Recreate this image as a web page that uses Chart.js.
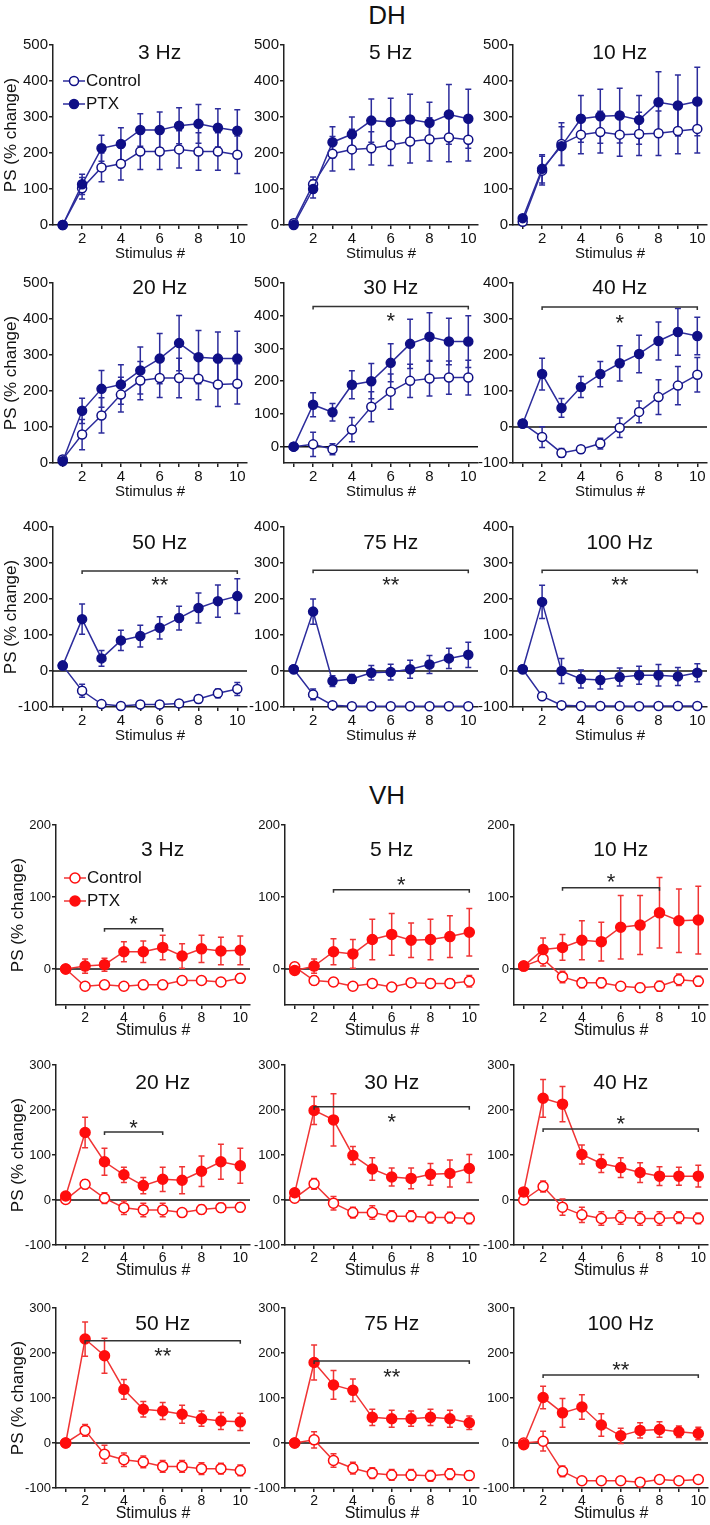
<!DOCTYPE html>
<html>
<head>
<meta charset="utf-8">
<script src="https://cdn.jsdelivr.net/npm/chart.js@4.4.0/dist/chart.umd.min.js"></script>
<style>
  body { margin: 0; background: #fff; width: 710px; height: 1525px; position: relative; overflow: hidden;
         font-family: "Liberation Sans", Arial, sans-serif; color: #111; }
  canvas { position: absolute; }
  .section { position: absolute; font-size: 26px; transform: translate(-50%, -50%); }
</style>
</head>
<body>
<div class="section" style="left:387px;top:15px">DH</div>
<div class="section" style="left:387px;top:795px">VH</div>
<script>
const stimuli = [1, 2, 3, 4, 5, 6, 7, 8, 9, 10];
const frequencies = ['3 Hz', '5 Hz', '10 Hz', '20 Hz', '30 Hz', '40 Hz', '50 Hz', '75 Hz', '100 Hz'];

// DH, one row per frequency (mean, SEM)
const dhControl = [
  [0, 102, 160, 170, 204, 204, 210, 204, 204, 195],
  [5, 113, 198, 210, 213, 222, 232, 238, 243, 237],
  [9, 151, 225, 251, 258, 251, 253, 255, 261, 267],
  [10, 79, 132, 190, 229, 236, 236, 234, 218, 220],
  [0, 7, -8, 52, 122, 168, 201, 208, 211, 211],
  [10, -28, -72, -62, -46, -2, 42, 83, 115, 145],
  [15, -55, -92, -97, -93, -93, -90, -78, -62, -50],
  [5, -65, -95, -98, -98, -98, -98, -98, -98, -98],
  [5, -70, -95, -97, -97, -97, -98, -97, -97, -97]
];
const dhControlErr = [
  [0, 30, 40, 45, 50, 50, 52, 52, 52, 52],
  [3, 20, 48, 56, 46, 57, 60, 60, 67, 59],
  [3, 40, 59, 53, 58, 60, 60, 62, 63, 67],
  [3, 42, 49, 48, 53, 54, 55, 58, 61, 56],
  [0, 37, 17, 37, 46, 54, 51, 53, 51, 53],
  [3, 29, 12, 10, 15, 27, 30, 48, 53, 48],
  [3, 18, 8, 5, 8, 8, 8, 10, 12, 18],
  [3, 15, 5, 3, 3, 3, 3, 3, 3, 3],
  [3, 8, 4, 3, 3, 3, 3, 3, 3, 3]
];
const dhPtx = [
  [0, 113, 213, 225, 264, 264, 276, 281, 270, 262],
  [0, 100, 230, 252, 290, 286, 293, 284, 307, 295],
  [19, 156, 219, 295, 302, 304, 292, 341, 332, 343],
  [5, 145, 206, 218, 257, 290, 333, 294, 290, 290],
  [0, 128, 105, 189, 200, 256, 314, 336, 321, 321],
  [9, 147, 53, 111, 147, 177, 203, 239, 264, 253],
  [15, 144, 35, 85, 97, 120, 147, 175, 194, 208],
  [5, 165, -28, -22, -5, -3, 5, 18, 35, 45],
  [5, 192, 0, -22, -25, -17, -12, -12, -15, -5]
];
const dhPtxErr = [
  [0, 28, 36, 45, 45, 50, 50, 54, 53, 58],
  [3, 25, 43, 48, 60, 66, 70, 57, 83, 82],
  [5, 39, 54, 65, 75, 76, 68, 85, 85, 95],
  [3, 35, 51, 55, 65, 70, 77, 74, 74, 76],
  [3, 37, 27, 43, 54, 58, 75, 73, 71, 79],
  [5, 44, 26, 29, 35, 49, 52, 53, 65, 52],
  [5, 42, 22, 28, 30, 31, 33, 42, 45, 48],
  [5, 35, 15, 12, 20, 22, 25, 25, 28, 35],
  [5, 46, 35, 25, 25, 25, 25, 30, 25, 25]
];

// VH
const vhControl = [
  [0, -24, -22, -24, -22, -22, -16, -16, -18, -13],
  [3, -16, -18, -24, -20, -25, -19, -20, -20, -17],
  [4, 14, -11, -19, -19, -24, -26, -24, -15, -17],
  [1, 35, 4, -17, -22, -22, -28, -21, -17, -16],
  [4, 36, -7, -28, -28, -36, -36, -39, -39, -41],
  [0, 30, -16, -33, -41, -39, -41, -41, -39, -41],
  [0, 28, -25, -37, -42, -52, -52, -57, -57, -61],
  [0, 7, -39, -56, -67, -71, -71, -73, -69, -72],
  [0, 4, -63, -84, -84, -84, -87, -81, -84, -81]
];
const vhControlErr = [
  [2, 4, 3, 3, 4, 3, 4, 4, 5, 6],
  [3, 6, 5, 5, 5, 3, 5, 6, 6, 8],
  [2, 10, 8, 7, 7, 5, 6, 7, 8, 7],
  [3, 10, 12, 15, 15, 15, 8, 10, 10, 10],
  [3, 12, 15, 12, 15, 12, 12, 12, 12, 12],
  [3, 12, 18, 17, 15, 15, 15, 15, 13, 12],
  [3, 13, 20, 15, 13, 13, 13, 13, 12, 12],
  [3, 18, 15, 13, 12, 12, 12, 12, 12, 10],
  [3, 22, 12, 5, 4, 5, 5, 4, 4, 4]
];
const vhPtx = [
  [0, 4, 6, 24, 24, 30, 18, 28, 25, 26],
  [-2, 4, 24, 21, 41, 48, 40, 41, 45, 51],
  [4, 27, 30, 40, 38, 58, 61, 78, 67, 68],
  [9, 150, 85, 56, 32, 46, 44, 64, 85, 76],
  [16, 199, 178, 99, 69, 51, 48, 57, 59, 70],
  [18, 226, 213, 101, 81, 72, 61, 53, 53, 53],
  [0, 231, 194, 119, 75, 71, 64, 54, 49, 47],
  [0, 179, 129, 117, 57, 54, 54, 57, 54, 45],
  [-4, 101, 67, 80, 40, 16, 28, 30, 25, 21]
];
const vhPtxErr = [
  [2, 10, 9, 14, 15, 17, 17, 19, 19, 20],
  [3, 10, 18, 20, 28, 29, 24, 28, 29, 33],
  [3, 16, 18, 27, 27, 44, 41, 49, 44, 47],
  [5, 34, 30, 17, 18, 27, 30, 34, 39, 39],
  [8, 31, 58, 20, 25, 20, 23, 24, 30, 31],
  [8, 42, 39, 21, 20, 22, 22, 21, 20, 24],
  [3, 38, 39, 22, 17, 19, 20, 17, 19, 19],
  [3, 39, 32, 25, 18, 19, 17, 18, 19, 15],
  [5, 25, 32, 27, 25, 17, 17, 17, 13, 14]
];

// axis ranges
const dhYMin = [0, 0, 0, 0, -50, -100, -100, -100, -100];
const dhYMax = [500, 500, 500, 500, 500, 400, 400, 400, 400];
const vhYMin = [-50, -50, -50, -100, -100, -100, -100, -100, -100];
const vhYMax = [200, 200, 200, 300, 300, 300, 300, 300, 300];

// significance bars
const dhSigFrom = [null, null, null, null, 2, 2, 2, 2, 2];
const dhSigTo = [null, null, null, null, 10, 10, 10, 10, 10];
const dhSigAt = [null, null, null, null, 428, 333, 278, 280, 280];
const dhSigMark = ['', '', '', '', '*', '*', '**', '**', '**'];
const dhSigMarkAt = [null, null, null, null, 400, 303, 253, 252, 252];

const vhSigFrom = [3, 3, 3, 3, 2, 2, 2, 2, 2];
const vhSigTo = [6, 10, 8, 6, 10, 10, 10, 10, 10];
const vhSigAt = [56, 110, 113, 151, 207, 158, 227, 182, 151];
const vhSigMark = ['*', '*', '*', '*', '*', '*', '**', '**', '**'];
const vhSigMarkAt = [69, 124, 128, 171, 184, 180, 204, 158, 173];

const FONT = '"Liberation Sans", Arial, sans-serif';
const AXIS = '#222';
const Y_W = 52, PLOT_W = 194, PLOT_H = 180, PAD_T = 14;

const regions = [
  {
    color: '#0f0f86', line: '#2c2c9c', control: dhControl, controlErr: dhControlErr, ptx: dhPtx, ptxErr: dhPtxErr,
    yMin: dhYMin, yMax: dhYMax,
    sig: { from: dhSigFrom, to: dhSigTo, at: dhSigAt, mark: dhSigMark, markAt: dhSigMarkAt },
    axisX: [53, 284, 513], top: [45, 283, 527], xAxisH: 38, titleDy: [8, 5, 16],
    yTick: 15, xTick: 15, xTitle: 15, yTitlePad: 0, radius: 4.5, legendDx: 21, legendDy: [36, 59]
  },
  {
    color: '#ff0d0d', line: '#f03434', control: vhControl, controlErr: vhControlErr, ptx: vhPtx, ptxErr: vhPtxErr,
    yMin: vhYMin, yMax: vhYMax,
    sig: { from: vhSigFrom, to: vhSigTo, at: vhSigAt, mark: vhSigMark, markAt: vhSigMarkAt },
    axisX: [56, 285, 514], top: [825, 1065, 1308], xAxisH: 35, titleDy: [25, 18, 16],
    yTick: 13, xTick: 14, xTitle: 16, yTitlePad: 4, radius: 5, legendDx: 19, legendDy: [53, 76]
  }
];

function panelExtras(R, i) {
  return {
    id: 'panelExtras',
    beforeDatasetsDraw(chart) {
      const { ctx, chartArea, scales: { x, y } } = chart;
      ctx.save();
      if (R.yMin[i] < 0) {
        ctx.strokeStyle = '#111';
        ctx.lineWidth = 1.5;
        ctx.beginPath();
        ctx.moveTo(chartArea.left, y.getPixelForValue(0));
        ctx.lineTo(chartArea.right, y.getPixelForValue(0));
        ctx.stroke();
      }
      // error bars (SEM)
      ctx.strokeStyle = R.line;
      ctx.lineWidth = 1.5;
      [[R.control[i], R.controlErr[i]], [R.ptx[i], R.ptxErr[i]]].forEach(([m, e]) => {
        stimuli.forEach((s, k) => {
          const px = x.getPixelForValue(s);
          const y1 = y.getPixelForValue(m[k] + e[k]);
          const y2 = y.getPixelForValue(m[k] - e[k]);
          ctx.beginPath();
          ctx.moveTo(px, y1); ctx.lineTo(px, y2);
          ctx.moveTo(px - 3, y1); ctx.lineTo(px + 3, y1);
          ctx.moveTo(px - 3, y2); ctx.lineTo(px + 3, y2);
          ctx.stroke();
        });
      });
      ctx.restore();
    },
    afterDraw(chart) {
      const { ctx, chartArea, scales: { x, y } } = chart;
      const row = Math.floor(i / 3);
      ctx.save();
      ctx.fillStyle = '#111';
      ctx.font = '21px ' + FONT;
      ctx.textAlign = 'center';
      ctx.textBaseline = 'middle';
      ctx.fillText(frequencies[i], x.getPixelForValue(6), chartArea.top + R.titleDy[row]);
      if (R.sig.from[i] !== null) {
        const x1 = x.getPixelForValue(R.sig.from[i]);
        const x2 = x.getPixelForValue(R.sig.to[i]);
        const py = y.getPixelForValue(R.sig.at[i]);
        ctx.strokeStyle = '#333';
        ctx.lineWidth = 1.5;
        ctx.beginPath();
        ctx.moveTo(x1, py + 3); ctx.lineTo(x1, py); ctx.lineTo(x2, py); ctx.lineTo(x2, py + 3);
        ctx.stroke();
        ctx.font = '22px ' + FONT;
        ctx.textBaseline = 'alphabetic';
        ctx.fillStyle = '#222';
        ctx.fillText(R.sig.mark[i], (x1 + x2) / 2, y.getPixelForValue(R.sig.markAt[i]) + 12);
      }
      if (i === 0) {
        const mx = chartArea.left + R.legendDx;
        ['Control', 'PTX'].forEach((name, k) => {
          const my = chartArea.top + R.legendDy[k];
          ctx.strokeStyle = R.line;
          ctx.lineWidth = 1.5;
          ctx.beginPath();
          ctx.moveTo(mx - 11, my); ctx.lineTo(mx + 11, my);
          ctx.stroke();
          ctx.strokeStyle = R.color;
          ctx.beginPath();
          ctx.arc(mx, my, R.radius, 0, Math.PI * 2);
          ctx.fillStyle = k === 0 ? '#fff' : R.color;
          ctx.fill();
          ctx.stroke();
          ctx.fillStyle = '#111';
          ctx.font = '17px ' + FONT;
          ctx.textAlign = 'left';
          ctx.textBaseline = 'middle';
          ctx.fillText(name, mx + 12, my);
        });
      }
      ctx.restore();
    }
  };
}

function makePanel(R, i) {
  const col = i % 3, row = Math.floor(i / 3);
  const canvas = document.createElement('canvas');
  const W = Y_W + PLOT_W + 8;
  const H = PAD_T + PLOT_H + R.xAxisH;
  canvas.width = W;
  canvas.height = H;
  canvas.style.width = W + 'px';
  canvas.style.height = H + 'px';
  canvas.style.left = (R.axisX[col] - Y_W) + 'px';
  canvas.style.top = (R.top[row] - PAD_T) + 'px';
  document.body.appendChild(canvas);

  const pts = arr => stimuli.map((s, k) => ({ x: s, y: arr[k] }));
  const common = {
    borderColor: R.line, pointBorderColor: R.color, borderWidth: 1.5,
    pointRadius: R.radius, pointBorderWidth: 1.5, tension: 0, fill: false, clip: false
  };

  new Chart(canvas, {
    type: 'line',
    data: {
      datasets: [
        Object.assign({ label: 'PTX', data: pts(R.ptx[i]), backgroundColor: R.color, pointBackgroundColor: R.color }, common),
        Object.assign({ label: 'Control', data: pts(R.control[i]), backgroundColor: '#fff', pointBackgroundColor: '#fff' }, common)
      ]
    },
    options: {
      responsive: false,
      animation: false,
      events: [],
      layout: { padding: { top: PAD_T, right: 8, left: 0, bottom: 0 } },
      plugins: { legend: { display: false }, tooltip: { enabled: false } },
      scales: {
        x: {
          type: 'linear', min: 0.5, max: 10.5,
          afterBuildTicks: s => { s.ticks = stimuli.map(v => ({ value: v })); },
          ticks: {
            autoSkip: false, maxRotation: 0, padding: 1, color: '#111',
            font: { family: FONT, size: R.xTick },
            callback: v => (v % 2 === 0 ? String(v) : '')
          },
          grid: { drawOnChartArea: false, drawTicks: true, tickLength: 4, color: AXIS, lineWidth: 1.5 },
          border: { color: AXIS, width: 1.5 },
          title: { display: true, text: 'Stimulus #', color: '#111', padding: 0, font: { family: FONT, size: R.xTitle } },
          afterFit: s => { s.height = R.xAxisH; }
        },
        y: {
          min: R.yMin[i], max: R.yMax[i],
          afterBuildTicks: s => { s.ticks = s.ticks.filter(t => t.value % 100 === 0); },
          ticks: { stepSize: 100, padding: 1, color: '#111', font: { family: FONT, size: R.yTick } },
          grid: { drawOnChartArea: false, drawTicks: true, tickLength: 4, color: AXIS, lineWidth: 1.5 },
          border: { color: AXIS, width: 1.5 },
          title: {
            display: col === 0, text: 'PS (% change)', color: '#111',
            padding: { top: R.yTitlePad, bottom: 0 }, font: { family: FONT, size: 17 }
          },
          afterFit: s => { s.width = Y_W; }
        }
      }
    },
    plugins: [panelExtras(R, i)]
  });
}

regions.forEach(R => frequencies.forEach((f, i) => makePanel(R, i)));
</script>
</body>
</html>
